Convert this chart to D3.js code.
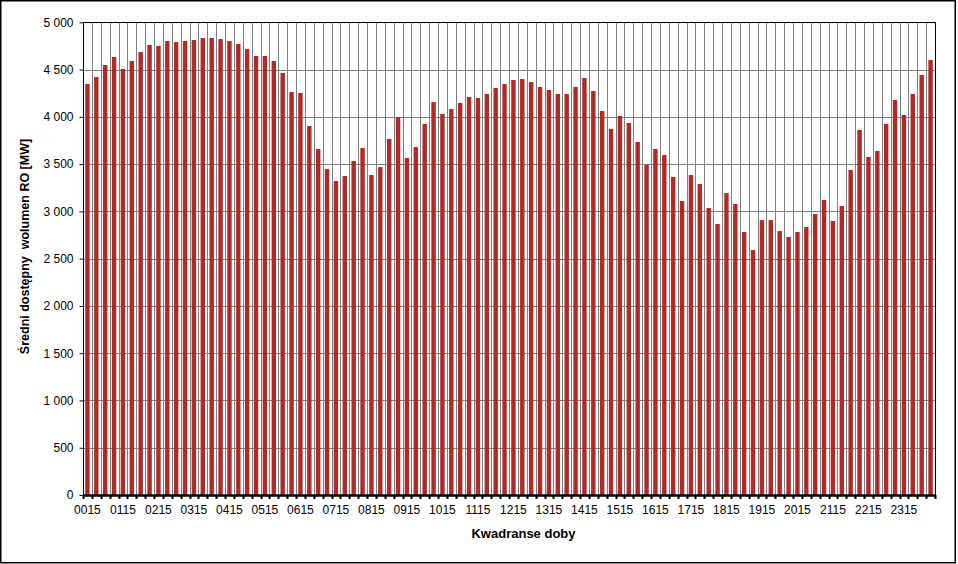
<!DOCTYPE html>
<html>
<head>
<meta charset="utf-8">
<script src="https://cdn.jsdelivr.net/npm/d3@7"></script>
<style>
  html, body { margin: 0; padding: 0; background: #fff; }
  svg { display: block; }
  text { font-family: "Liberation Sans", Arial, sans-serif; fill: #000; }
</style>
</head>
<body>
<svg id="chart" width="958" height="564"></svg>
<script>
// ---------- data ----------
const categories = [
  "0015","0030","0045","0100","0115","0130","0145","0200",
  "0215","0230","0245","0300","0315","0330","0345","0400",
  "0415","0430","0445","0500","0515","0530","0545","0600",
  "0615","0630","0645","0700","0715","0730","0745","0800",
  "0815","0830","0845","0900","0915","0930","0945","1000",
  "1015","1030","1045","1100","1115","1130","1145","1200",
  "1215","1230","1245","1300","1315","1330","1345","1400",
  "1415","1430","1445","1500","1515","1530","1545","1600",
  "1615","1630","1645","1700","1715","1730","1745","1800",
  "1815","1830","1845","1900","1915","1930","1945","2000",
  "2015","2030","2045","2100","2115","2130","2145","2200",
  "2215","2230","2245","2300","2315","2330","2345","2400"
];
const volumes = [
  4347, 4421, 4548, 4633, 4506, 4591, 4686, 4760,
  4750, 4802, 4792, 4802, 4813, 4834, 4834, 4823,
  4802, 4771, 4718, 4644, 4644, 4591, 4464, 4263,
  4252, 3903, 3660, 3448, 3321, 3374, 3533, 3670,
  3385, 3469, 3766, 3998, 3565, 3681, 3924, 4157,
  4030, 4083, 4147, 4210, 4199, 4242, 4305, 4347,
  4390, 4400, 4368, 4316, 4284, 4242, 4242, 4316,
  4411, 4273, 4062, 3872, 4009, 3935, 3734, 3491,
  3660, 3596, 3364, 3110, 3385, 3290, 3036, 2867,
  3194, 3078, 2782, 2591, 2908, 2908, 2792, 2729,
  2782, 2835, 2972, 3120, 2898, 3057, 3438, 3861,
  3575, 3639, 3924, 4178, 4020, 4242, 4443, 4601
];
const xTickLabels = ["0015","0115","0215","0315","0415","0515","0615","0715",
  "0815","0915","1015","1115","1215","1315","1415","1515","1615","1715",
  "1815","1915","2015","2115","2215","2315"];
const yTicks = [0, 500, 1000, 1500, 2000, 2500, 3000, 3500, 4000, 4500, 5000];
const yTitle = "Średni dostępny  wolumen RO [MW]";
const xTitle = "Kwadranse doby";

// ---------- layout ----------
const W = 958, H = 564;
const plot = { left: 83, right: 935, top: 22.3, bottom: 495 };
const barColor = "#b02a27";
const gridColor = "#808080";

const svg = d3.select("#chart");

// outer frame
svg.append("rect")
  .attr("x", 0.75).attr("y", 0.75)
  .attr("width", 954.5).attr("height", 562)
  .attr("fill", "#fff").attr("stroke", "#000").attr("stroke-width", 1.5);

const x = d3.scaleBand()
  .domain(categories)
  .range([plot.left, plot.right])
  .paddingInner(0.5)
  .paddingOuter(0.25);

const y = d3.scaleLinear().domain([0, 5000]).range([plot.bottom, plot.top]);

const step = x.step();
const boundary = i => x(categories[0]) - step * 0.25 + i * step;
const boundaries = d3.range(categories.length + 1);

const locale = d3.formatLocale({ decimal: ",", thousands: "\u00a0", grouping: [3], currency: ["", ""] });
const fmt = locale.format(",d");

// gridlines
const g = svg.append("g");
g.selectAll("line.hgrid")
  .data(yTicks.filter(t => t > 0 && t < 5000))
  .join("line")
  .attr("class", "hgrid")
  .attr("x1", plot.left).attr("x2", plot.right)
  .attr("y1", d => Math.round(y(d)) + 0.5).attr("y2", d => Math.round(y(d)) + 0.5)
  .attr("stroke", gridColor).attr("stroke-width", 1);

g.selectAll("line.vgrid")
  .data(boundaries.slice(1, -1))
  .join("line")
  .attr("class", "vgrid")
  .attr("x1", d => Math.round(boundary(d)) + 0.5).attr("x2", d => Math.round(boundary(d)) + 0.5)
  .attr("y1", plot.top).attr("y2", plot.bottom)
  .attr("stroke", gridColor).attr("stroke-width", 1);

// bars
svg.append("g").selectAll("rect")
  .data(volumes)
  .join("rect")
  .attr("x", (d, i) => x(categories[i]))
  .attr("width", x.bandwidth())
  .attr("y", d => y(d))
  .attr("height", d => y(0) - y(d))
  .attr("fill", barColor);

// plot border (top & right)
svg.append("path")
  .attr("d", `M${plot.left},${Math.round(plot.top)+0.5} H${plot.right+0.5} V${plot.bottom}`)
  .attr("fill", "none").attr("stroke", "#000").attr("stroke-width", 1);

// y axis
const yAxis = d3.axisLeft(y)
  .tickValues(yTicks)
  .tickSize(4)
  .tickPadding(6)
  .tickFormat(d => fmt(d));
const ya = svg.append("g")
  .attr("transform", `translate(${plot.left + 0.5},0)`)
  .call(yAxis);
ya.select(".domain").attr("stroke", "#000").attr("d", `M0,${plot.top}V${plot.bottom}`);
ya.selectAll(".tick line").attr("stroke", "#000");
ya.selectAll(".tick text")
  .attr("font-family", "Liberation Sans, Arial, sans-serif")
  .attr("font-size", 12).attr("fill", "#000");

// x axis: thick line, small ticks at category boundaries
svg.append("line")
  .attr("x1", plot.left).attr("x2", plot.right + 1)
  .attr("y1", plot.bottom + 0.5).attr("y2", plot.bottom + 0.5)
  .attr("stroke", "#000").attr("stroke-width", 2.5);
svg.append("g").selectAll("line")
  .data(boundaries)
  .join("line")
  .attr("x1", d => Math.round(boundary(d)) + 0.5).attr("x2", d => Math.round(boundary(d)) + 0.5)
  .attr("y1", plot.bottom).attr("y2", plot.bottom + 4)
  .attr("stroke", "#000").attr("stroke-width", 2);

const xAxis = d3.axisBottom(x).tickValues(xTickLabels).tickSize(0).tickPadding(10);
const xa = svg.append("g")
  .attr("transform", `translate(0,${plot.bottom})`)
  .call(xAxis);
xa.select(".domain").remove();
xa.selectAll(".tick text")
  .attr("font-family", "Liberation Sans, Arial, sans-serif")
  .attr("font-size", 12).attr("fill", "#000");

// titles
svg.append("text")
  .attr("transform", "translate(29,246.5) rotate(-90)")
  .attr("text-anchor", "middle")
  .attr("font-size", 12.5).attr("font-weight", "bold")
  .style("white-space", "pre")
  .text(yTitle);

svg.append("text")
  .attr("x", 523.5).attr("y", 537.5)
  .attr("text-anchor", "middle")
  .attr("font-size", 13).attr("font-weight", "bold")
  .text(xTitle);
</script>
</body>
</html>
